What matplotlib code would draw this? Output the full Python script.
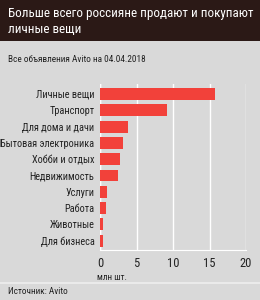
import matplotlib.pyplot as plt
from matplotlib import font_manager
from matplotlib.patches import Rectangle
from matplotlib.lines import Line2D

# Data (million listings)
categories = ['Личные вещи', 'Транспорт', 'Для дома и дачи', 'Бытовая электроника',
              'Хобби и отдых', 'Недвижимость', 'Услуги', 'Работа', 'Животные', 'Для бизнеса']
values = [15.7, 9.2, 3.9, 3.2, 2.8, 2.5, 1.0, 0.8, 0.4, 0.35]
ticks = [0, 5, 10, 15, 20]

title = 'Больше всего россияне продают и покупают\nличные вещи'
subtitle = 'Все объявления Avito на 04.04.2018'
source = 'Источник: Avito'

bg = '#d9d9d9'
bar_color = '#f2413a'
text_color = '#222222'

# narrow font if we have one, otherwise condensed DejaVu
available = {f.name for f in font_manager.fontManager.ttflist}
if 'Roboto Condensed' in available:
    plt.rcParams['font.family'] = ['Roboto Condensed', 'DejaVu Sans']
    scale = 1.0
else:
    plt.rcParams['font.family'] = ['DejaVu Sans']
    plt.rcParams['font.stretch'] = 'condensed'
    scale = 0.85

W, H = 260, 300
fig = plt.figure(figsize=(W / 100, H / 100), dpi=100)
fig.patch.set_facecolor(bg)

# Title band
fig.patches.append(Rectangle((0, 1 - 41 / H), 1, 41 / H, transform=fig.transFigure,
                             facecolor='#2b1916', edgecolor='none', zorder=0))
fig.text(8 / W, 1 - 21.5 / H, title, color='white', fontsize=9.4 * scale, va='center', ha='left',
         linespacing=1.35)
fig.text(8 / W, 1 - 60 / H, subtitle, color=text_color, fontsize=6.7 * scale, va='center', ha='left')

# Source band separator
fig.lines.append(Line2D([0, 1], [1 - 283 / H, 1 - 283 / H], transform=fig.transFigure,
                        color='#eeeeee', lw=1.2))
fig.text(8 / W, 1 - 292 / H, source, color=text_color, fontsize=6.7 * scale, va='center', ha='left')

ax = fig.add_axes([100 / W, 1 - 250 / H, 146 / W, 166 / H])
ax.set_facecolor(bg)
ypos = list(range(len(categories)))
ax.barh(ypos, values, height=0.73, color=bar_color, zorder=3)
ax.set_xlim(0, 20)
ax.set_ylim(9.57, -0.61)
ax.set_xticks(ticks)
ax.set_yticks(ypos)
ax.set_yticklabels(categories)
ax.grid(axis='x', color='white', lw=1, zorder=0)
for s in ['top', 'right', 'left']:
    ax.spines[s].set_visible(False)
ax.spines['bottom'].set_color('white')
ax.tick_params(axis='y', length=0, pad=4, labelsize=7.4 * scale, labelcolor=text_color)
ax.tick_params(axis='x', length=0, pad=5, labelsize=9 * scale, labelcolor=text_color)
ax.axvline(0, color='white', lw=1, zorder=2)
fig.text(97 / W, 1 - 277 / H, 'млн шт.', color=text_color, fontsize=6.6 * scale, va='center', ha='left')

fig.savefig('out.png', dpi=100, facecolor=bg)
